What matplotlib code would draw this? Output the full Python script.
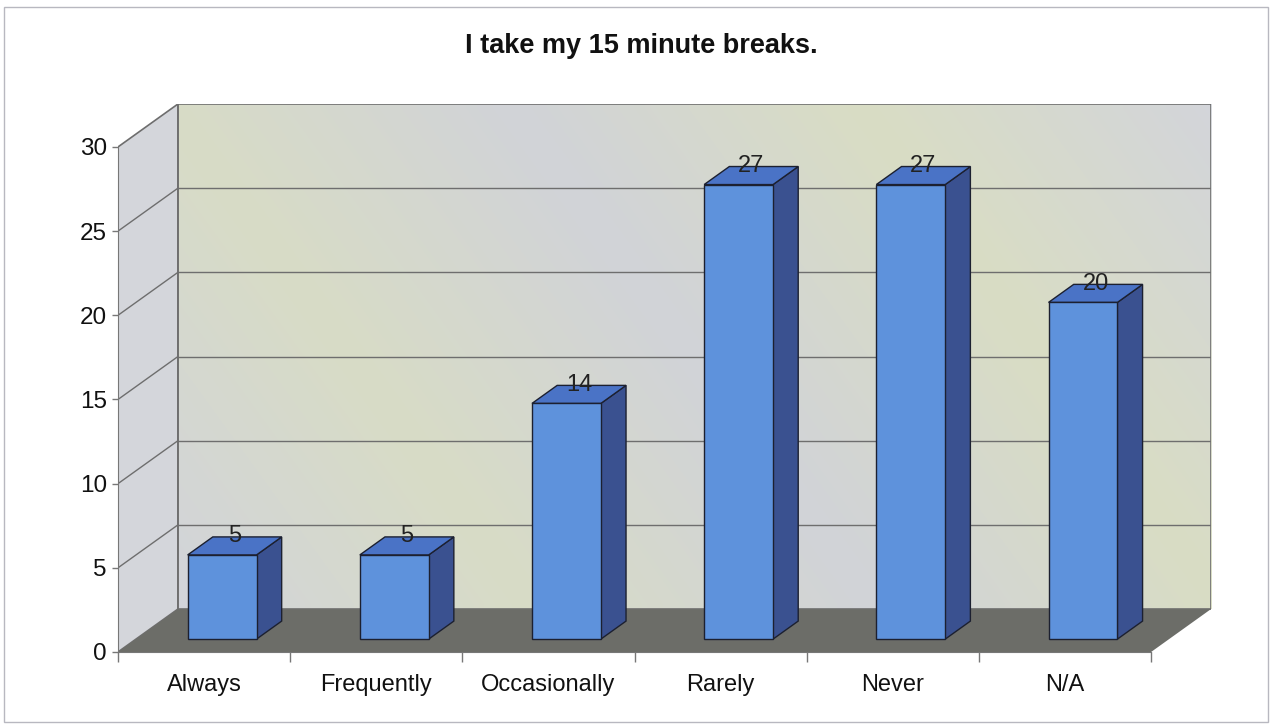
import numpy as np
import matplotlib.pyplot as plt
from matplotlib.patches import Polygon, Rectangle
from matplotlib.colors import LinearSegmentedColormap

categories = ["Always", "Frequently", "Occasionally", "Rarely", "Never", "N/A"]
counts = [5, 5, 14, 27, 27, 20]
y_ticks = [0, 5, 10, 15, 20, 25, 30]
title = "I take my 15 minute breaks."

plt.rcParams["font.family"] = ["Liberation Sans", "DejaVu Sans"]

W, H = 1274, 726
fig = plt.figure(figsize=(W / 100, H / 100), dpi=100)

# oblique depth offset (category units, value units)
dx, dy = 0.348, 2.55
ymax = y_ticks[-1]
n = len(categories)

ax = fig.add_axes([118 / W, 74 / H, 1093 / W, 548 / H])
ax.set_xlim(0, n + dx)
ax.set_ylim(0, ymax + dy)

side = "#d4d6db"
floor = "#6c6d68"
grid = "#6e6e6e"

# back wall with a soft gray / pale green wash
wash = LinearSegmentedColormap.from_list("wash", ["#d2d4da", "#d8dcc6", "#d1d3d8", "#d9ddc4", "#d3d5da"])
grad = np.add.outer(np.linspace(0, 0.35, 50), np.linspace(0, 1, 200))
back = Rectangle((dx, dy), n, ymax, facecolor="none", edgecolor=grid, lw=1.2, zorder=1.6)
ax.add_patch(back)
im = ax.imshow(grad, cmap=wash, extent=(dx, n + dx, dy, ymax + dy), aspect="auto",
               origin="lower", zorder=1, interpolation="bilinear")
im.set_clip_path(back)
ax.add_patch(Polygon([(0, 0), (dx, dy), (dx, ymax + dy), (0, ymax)],
                     closed=True, facecolor=side, edgecolor=grid, lw=1.2, zorder=1))
ax.add_patch(Polygon([(0, 0), (n, 0), (n + dx, dy), (dx, dy)],
                     closed=True, facecolor=floor, edgecolor="none", zorder=2))

# gridlines on walls
for v in y_ticks[1:-1]:
    ax.plot([dx, n + dx], [v + dy, v + dy], color=grid, lw=1, zorder=1.5)
    ax.plot([0, dx], [v, v + dy], color=grid, lw=1, zorder=1.5)

# 3d-looking bars
f1, f2 = 0.30, 0.72
bw = 0.40
front_c, top_c, side_c = "#5e92dc", "#4a73c6", "#3a5190"
for i, v in enumerate(counts):
    x0 = i + 0.5 - bw / 2 + f1 * dx
    x1 = x0 + bw
    yb = f1 * dy
    yt = v + f1 * dy
    ddx, ddy = (f2 - f1) * dx, (f2 - f1) * dy
    ax.add_patch(Polygon([(x1, yb), (x1 + ddx, yb + ddy), (x1 + ddx, yt + ddy), (x1, yt)],
                         closed=True, facecolor=side_c, edgecolor="#1c2030", lw=1, zorder=3))
    ax.add_patch(Polygon([(x0, yt), (x1, yt), (x1 + ddx, yt + ddy), (x0 + ddx, yt + ddy)],
                         closed=True, facecolor=top_c, edgecolor="#1c2030", lw=1, zorder=3))
    ax.add_patch(Rectangle((x0, yb), bw, v, facecolor=front_c, edgecolor="#1c2030",
                           lw=1, zorder=4))
    ax.text(x0 + bw / 2 + ddx / 2, v + f2 * dy + 0.05, str(v), ha="center", va="center",
            fontsize=17, color="#222222", zorder=5)

# axes
for s in ["top", "right"]:
    ax.spines[s].set_visible(False)
ax.spines["left"].set_bounds(0, ymax)
ax.spines["bottom"].set_bounds(0, n)
ax.spines["left"].set_color("#777777")
ax.spines["bottom"].set_color("#777777")
ax.spines["left"].set_zorder(6)
ax.spines["bottom"].set_zorder(6)

ax.set_yticks(y_ticks)
ax.tick_params(axis="y", length=4, width=1, color="#777777", pad=4, labelsize=17.5,
               labelcolor="#111111")
ax.set_xticks([i + 0.5 for i in range(n)])
ax.set_xticklabels(categories)
ax.set_xticks(range(n + 1), minor=True)
ax.tick_params(axis="x", which="major", length=0, pad=16, labelsize=17, labelcolor="#111111")
ax.tick_params(axis="x", which="minor", length=7, width=1, color="#777777")

fig.text(641 / W, 1 - 46 / H, title, ha="center", va="center", fontsize=19.5,
         fontweight="bold", color="#111111")

# outer frame
fig.patches.append(Rectangle((4 / W, 4 / H), 1264 / W, 715 / H, transform=fig.transFigure,
                             fill=False, edgecolor="#b8b8c0", lw=1))

fig.savefig("out.png", dpi=100)
